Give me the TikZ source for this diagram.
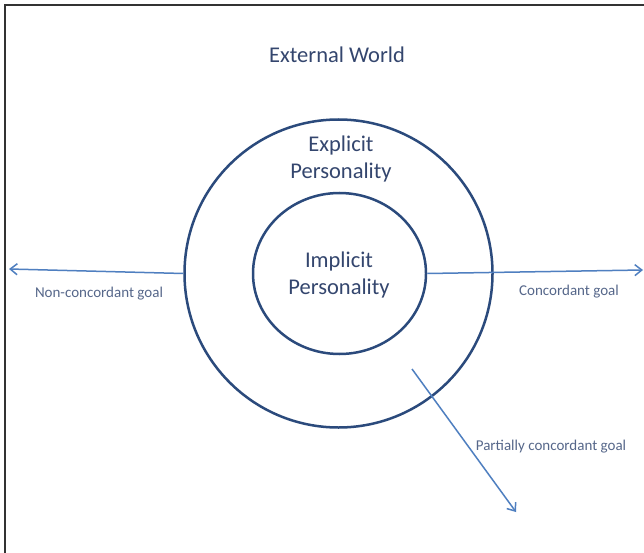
\documentclass[tikz,border=0pt]{standalone}
\usepackage{fontspec}
\setmainfont{Carlito}
\usetikzlibrary{arrows.meta,shapes.geometric}
\definecolor{ringc}{HTML}{2B4A7C}
\definecolor{arrc}{HTML}{4F7FC0}
\definecolor{titc}{HTML}{34466E}
\definecolor{labc}{HTML}{56678A}
\tikzset{
  ring/.style={draw=ringc, line width=2.5pt, inner sep=0pt},
  goal/.style={draw=arrc, line width=1.5pt, -{Straight Barb[length=7pt,width=11pt,line width=1.5pt]}},
  big/.style={text=titc, font=\fontsize{22.5}{27}\selectfont, align=center},
  small/.style={text=labc, font=\fontsize{15}{18}\selectfont}
}
\begin{document}
\begin{tikzpicture}[x=1pt,y=-1pt]
\useasboundingbox (0,0) rectangle (644,553);
\fill[white] (0,0) rectangle (644,553);
\draw[line width=1.3pt, draw=black!80] (5,553) -- (5,5) -- (644,5);
\node[big] (world) at (337,55) {External World};
\node[ring, circle, minimum size=308pt] (outer) at (338.5,273.5) {};
\node[ring, ellipse, minimum width=173pt, minimum height=161pt] (inner) at (339.5,273.5) {};
\node[big, inner sep=0pt] (explicit) at (341,159) {Explicit\\Personality};
\node[big, inner sep=0pt] (implicit) at (339,275) {Implicit\\Personality};
\coordinate (lend) at (9,269);
\coordinate (rend) at (643,270);
\coordinate (dstart) at (412,369);
\coordinate (dend) at (516,512);
\draw[goal] (outer.west) -- (lend);
\draw[goal] (inner.east) -- (rend);
\draw[goal] (dstart) -- (dend);
\node[small] (nc) at (99,294) {Non-concordant goal};
\node[small] (cg) at (569,292) {Concordant goal};
\node[small] (pc) at (551,447) {Partially concordant goal};
\end{tikzpicture}
\end{document}
